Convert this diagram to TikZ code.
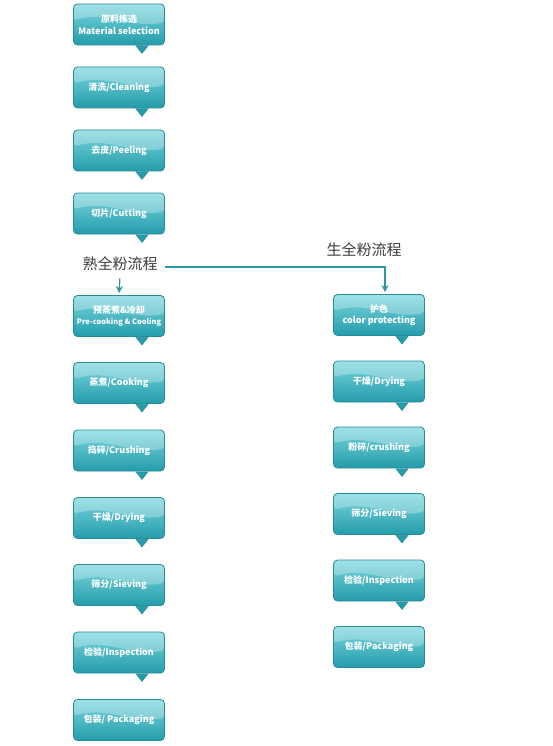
\documentclass[tikz,border=0pt]{standalone}
\usepackage{fontspec}
\setmainfont{Noto Sans CJK SC}
\usetikzlibrary{arrows.meta,calc}
\definecolor{boxtop}{RGB}{122,214,222}
\definecolor{boxbot}{RGB}{36,156,170}
\definecolor{boxedge}{RGB}{40,140,152}
\definecolor{linec}{RGB}{50,150,162}
\definecolor{headc}{RGB}{60,60,60}
\tikzset{
  procbox/.style={draw=boxedge, line width=0.8pt, rounded corners=4pt,
    minimum width=91pt, minimum height=41pt, inner sep=1pt,
    top color=boxtop, bottom color=boxbot, text=white, align=center,
    font=\bfseries\fontsize{9}{11.5}\selectfont,
    path picture={
      \fill[white,opacity=0.28] (path picture bounding box.north west) --
        ($(path picture bounding box.west)+(0,-4)$)
        .. controls ($(path picture bounding box.center)+(-10,-14)$) and ($(path picture bounding box.center)+(10,4)$) ..
        ($(path picture bounding box.east)+(0,-2)$) --
        (path picture bounding box.north east) -- cycle;
    }},
  ptr/.style={fill=boxbot, draw=boxedge, line width=0.6pt},
  head/.style={text=headc, font=\fontsize{15}{17}\selectfont},
  flow/.style={draw=linec, line width=1.3pt, -{Stealth[length=7pt,width=7pt]}}
}
\newcommand{\pointer}[1]{%
  \filldraw[ptr] ($(#1.south)+(17,0.4)$) -- ($(#1.south)+(23,8)$) -- ($(#1.south)+(29,0.4)$) -- cycle;}
\begin{document}
\begin{tikzpicture}[x=1pt,y=-1pt]
\useasboundingbox (0,0) rectangle (552,746);
% left column
\node[procbox] (l1) at (119,24.5) {原料拣选\\Material selection};
\node[procbox] (l2) at (119,87.5) {清洗/Cleaning};
\node[procbox] (l3) at (119,150.5) {去皮/Peeling};
\node[procbox] (l4) at (119,213.5) {切片/Cutting};
\node[procbox] (l5) at (119,316) {预蒸煮\&冷却\\{\fontsize{7.5}{9}\selectfont Pre-cooking \& Cooling}};
\node[procbox] (l6) at (119,383) {蒸煮/Cooking};
\node[procbox] (l7) at (119,450.5) {捣碎/Crushing};
\node[procbox] (l8) at (119,518) {干燥/Drying};
\node[procbox] (l9) at (119,585) {筛分/Sieving};
\node[procbox] (l10) at (119,652.5) {检验/Inspection};
\node[procbox] (l11) at (119,720) {包装/ Packaging};
% right column
\node[procbox] (r1) at (379,315) {护色\\color protecting};
\node[procbox] (r2) at (379,381.5) {干燥/Drying};
\node[procbox] (r3) at (379,447.5) {粉碎/crushing};
\node[procbox] (r4) at (379,514) {筛分/Sieving};
\node[procbox] (r5) at (379,580.5) {检验/Inspection};
\node[procbox] (r6) at (379,647) {包装/Packaging};
% pointers
\foreach \n in {l1,l2,l3,l4,l5,l6,l7,l8,l9,l10,r1,r2,r3,r4,r5} {\pointer{\n}}
% headings
\node[head] (h1) at (120,264) {熟全粉流程};
\node[head] (h2) at (364,250) {生全粉流程};
% connectors
\draw[flow, shorten <=4pt, shorten >=2pt] (h1.south) -- (l5.north);
\coordinate (c1) at ($(h1.east)+(4,3)$);
\draw[flow, shorten >=2pt] (c1) -| ($(r1.north)+(6,0)$);
\end{tikzpicture}
\end{document}
